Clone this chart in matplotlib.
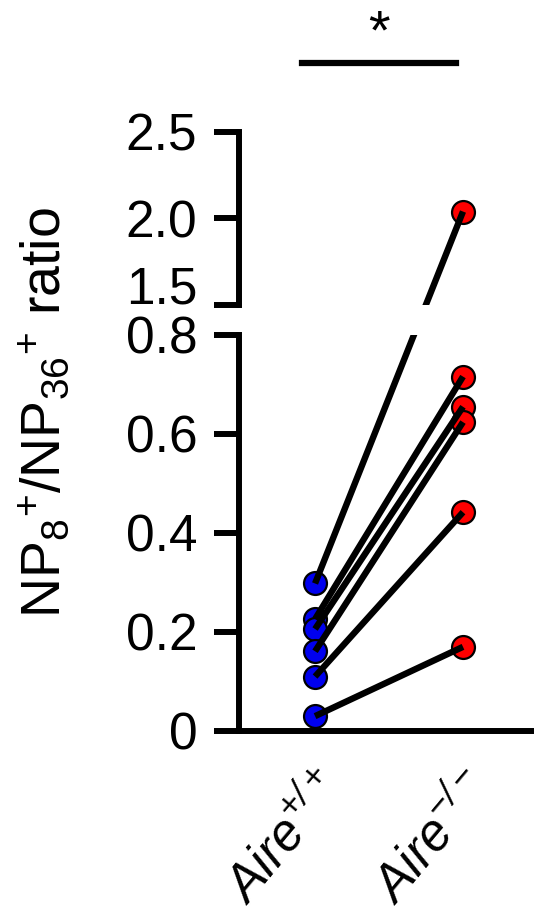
import numpy as np
import matplotlib
matplotlib.use('Agg')
import matplotlib.pyplot as plt
import matplotlib.transforms as mtransforms

plt.rcParams['font.family'] = ['Liberation Sans', 'DejaVu Sans']
plt.rcParams['mathtext.fontset'] = 'custom'
plt.rcParams['mathtext.rm'] = 'Liberation Sans'
plt.rcParams['mathtext.it'] = 'Liberation Sans:italic'

# data (paired samples)
groups = [r'Aire$^{\mathregular{+/+}}$', r'Aire$^{\mathregular{-/-}}$']
aire_wt = [0.298, 0.226, 0.206, 0.161, 0.110, 0.030]
aire_ko = [2.04, 0.716, 0.655, 0.624, 0.442, 0.170]
bottom_ticks = [0, 0.2, 0.4, 0.6, 0.8]
top_ticks = [1.5, 2.0, 2.5]
bottom_lim = (0, 0.8)
top_lim = (1.5, 2.5)
ylabel = r'NP$_\mathregular{8}$$^\mathregular{+}$/NP$_\mathregular{36}$$^\mathregular{+}$ ratio'

fig = plt.figure(figsize=(5.34, 9.15), dpi=100)
ax_top = fig.add_axes([0.4476, 0.6667, 0.5524, 0.1891])
ax_bot = fig.add_axes([0.4476, 0.2011, 0.5524, 0.4328])

lw = 4.3
tick_len, tick_pad, tick_size = 18, 12, 37
for ax in (ax_top, ax_bot):
	ax.set_xlim(0.486, 2.48)
	ax.spines['top'].set_visible(False)
	ax.spines['right'].set_visible(False)
	ax.spines['left'].set_linewidth(lw)
	ax.spines['bottom'].set_linewidth(lw)
	ax.tick_params(axis='y', length=tick_len, width=lw, pad=tick_pad, labelsize=tick_size)
ax_top.spines['bottom'].set_visible(False)
ax_top.set_xticks([])
ax_top.set_ylim(*top_lim)
ax_top.set_yticks(top_ticks)
# lowest label of the upper segment is nudged up (drawn separately below)
ax_top.set_yticklabels([''] + ['%.1f' % t for t in top_ticks[1:]])
tr, va, ha = ax_top.get_yaxis_text1_transform(tick_len + tick_pad)
ax_top.text(0, top_ticks[0], '%.1f' % top_ticks[0], fontsize=tick_size, va=va, ha=ha,
			transform=tr + mtransforms.ScaledTranslation(0, 0.2, fig.dpi_scale_trans))

ax_bot.set_ylim(*bottom_lim)
ax_bot.set_yticks(bottom_ticks)
ax_bot.set_yticklabels(['0'] + ['%.1f' % t for t in bottom_ticks[1:]])
ax_bot.set_xticks([1, 2])
ax_bot.set_xticklabels(groups, rotation=50, ha='right', va='top', rotation_mode='anchor',
					   fontsize=37, fontstyle='italic')
ax_bot.tick_params(axis='x', length=0, pad=23)


def pick(v):
	return ax_top if v > bottom_lim[1] else ax_bot


# markers first, connecting lines on top
for v in aire_wt:
	pick(v).plot(1, v, 'o', ms=16.5, mfc='#0000ee', mec='k', mew=1.6, clip_on=False, zorder=2)
for v in aire_ko:
	pick(v).plot(2, v, 'o', ms=16.5, mfc='#ff0000', mec='k', mew=1.6, clip_on=False, zorder=2)

inv = fig.transFigure.inverted()
for a, b in zip(aire_wt, aire_ko):
	p1 = inv.transform(pick(a).transData.transform((1, a)))
	p2 = inv.transform(pick(b).transData.transform((2, b)))
	for ax in (ax_top, ax_bot):
		ax.plot([p1[0], p2[0]], [p1[1], p2[1]], color='k', lw=4.6,
				transform=fig.transFigure, zorder=3, solid_capstyle='butt')

# significance bar
ax_top.plot([0.912, 1.95], [2.9, 2.9], color='k', lw=4.5, clip_on=False)
ax_top.text(1.43, 2.98, '*', ha='center', va='baseline', fontsize=40)

fig.text(0.085, 0.549, ylabel, rotation=90, ha='center', va='center', fontsize=40)

fig.savefig('out.png', dpi=100)
